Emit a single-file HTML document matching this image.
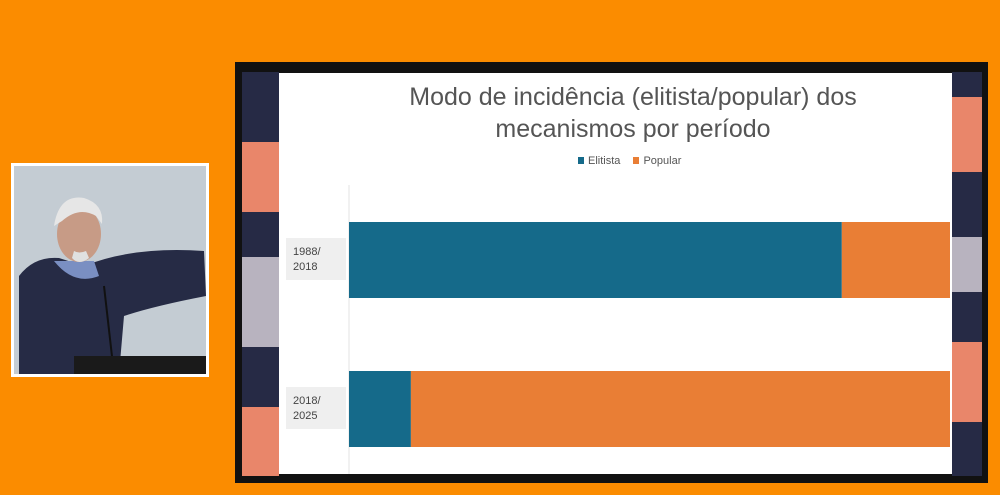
<!DOCTYPE html>
<html><head><meta charset="utf-8">
<style>
body{margin:0;width:1000px;height:495px;background:#fb8c00;position:relative;overflow:hidden;font-family:"Liberation Sans",sans-serif}
.abs{position:absolute}
</style></head>
<body>
<div class="abs" style="left:11px;top:163px;width:192px;height:208px;border:3px solid #fff;background:#c9d0d6;overflow:hidden">
  <svg width="192" height="208">
    <rect x="0" y="0" width="192" height="208" fill="#c4ccd3"/>
    <path d="M5 208 L5 110 Q20 90 45 92 L70 100 Q120 80 190 85 L192 130 Q140 140 110 150 L105 208 Z" fill="#262b45"/>
    <path d="M40 95 Q60 120 85 110 L80 95 Z" fill="#7a8fc2"/>
    <ellipse cx="65" cy="68" rx="22" ry="28" fill="#c79b86"/>
    <path d="M40 60 Q45 28 70 32 Q90 38 88 58 L82 50 Q65 40 48 55 Z" fill="#e6e6e6"/>
    <path d="M58 92 Q65 100 75 92 L72 85 Q65 88 60 85Z" fill="#e0e0e0"/>
    <line x1="90" y1="120" x2="100" y2="208" stroke="#111" stroke-width="2"/>
    <rect x="60" y="190" width="132" height="18" fill="#1a1a1a"/>
  </svg>
</div>
<div class="abs" style="left:235px;top:62px;width:753px;height:421px;background:#111">
  <svg class="abs" style="left:7px;top:10px" width="740" height="404">
    <rect x="0" y="0" width="37" height="404" fill="#262a45"/>
    <rect x="0" y="70" width="37" height="70" fill="#e9866a"/>
    <rect x="0" y="185" width="37" height="90" fill="#b8b3bf"/>
    <rect x="0" y="335" width="37" height="69" fill="#e9866a"/>
    <rect x="710" y="0" width="30" height="404" fill="#262a45"/>
    <rect x="710" y="25" width="30" height="75" fill="#e9866a"/>
    <rect x="710" y="165" width="30" height="55" fill="#b8b3bf"/>
    <rect x="710" y="270" width="30" height="80" fill="#e9866a"/>
  </svg>
  <div class="abs" style="left:44px;top:11px;width:673px;height:401px;background:#fff"></div>
</div>
<div class="abs" style="left:298px;top:81px;width:670px;text-align:center;font-size:25px;line-height:32px;color:#555">Modo de incidência (elitista/popular) dos<br>mecanismos por período</div>
<div class="abs" style="left:578px;top:155px;font-size:11px;color:#555;white-space:nowrap">
  <span><span style="display:inline-block;width:6px;height:7px;background:#156a8a;margin-right:4px"></span>Elitista</span>
  <span style="margin-left:10px"><span style="display:inline-block;width:6px;height:7px;background:#e97e35;margin-right:4px"></span>Popular</span>
</div>
<svg class="abs" style="left:0;top:0" width="1000" height="495" id="chart"></svg>
<script>
const categories = ["1988/\n2018", "2018/\n2025"];
const elitista = [82, 10.3];
const popular = [18, 89.7];
const NS="http://www.w3.org/2000/svg";
const svg=document.getElementById('chart');
const x0=349, x1=950;
function xs(v){return x0+(x1-x0)*v/100;}
const rowTop=[222,371], barH=76;
function yBand(i){return rowTop[0]+i*(rowTop[1]-rowTop[0]);}
const axis=document.createElementNS(NS,'line');


axis.setAttribute('x1',x0);axis.setAttribute('x2',x0);axis.setAttribute('y1',185);axis.setAttribute('y2',474);
axis.setAttribute('stroke','#e3e3e3');
svg.appendChild(axis);
categories.forEach((c,i)=>{
  const y=yBand(i);
  const b1=document.createElementNS(NS,'rect');
  
  
  b1.setAttribute('x',xs(0));b1.setAttribute('y',y);b1.setAttribute('width',xs(elitista[i])-xs(0));b1.setAttribute('height',barH);b1.setAttribute('fill','#156a8a');
  svg.appendChild(b1);
  const b2=document.createElementNS(NS,'rect');
  
  
  b2.setAttribute('x',xs(elitista[i]));b2.setAttribute('y',y);b2.setAttribute('width',xs(elitista[i]+popular[i])-xs(elitista[i]));b2.setAttribute('height',barH);b2.setAttribute('fill','#e97e35');
  svg.appendChild(b2);
  const bg=document.createElementNS(NS,'rect');
  
  
  bg.setAttribute('x',286);bg.setAttribute('y',y+16);bg.setAttribute('width',60);bg.setAttribute('height',42);bg.setAttribute('fill','#efefef');
  svg.appendChild(bg);
  const t=document.createElementNS(NS,'text');
  
  
  t.setAttribute('x',293);t.setAttribute('font-size','11');t.setAttribute('fill','#444');
  c.split('\n').forEach((ln,k)=>{const ts=document.createElementNS(NS,'tspan');ts.setAttribute('x',293);ts.setAttribute('y',y+33+k*15);ts.textContent=ln;t.appendChild(ts);});
  svg.appendChild(t);
});
</script>
</body></html>
